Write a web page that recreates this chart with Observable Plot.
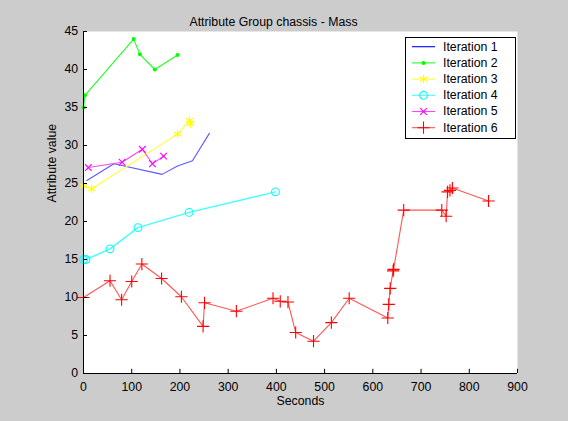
<!DOCTYPE html>
<html>
<head>
<meta charset="utf-8">
<script src="https://cdn.jsdelivr.net/npm/d3@7"></script>
<script src="https://cdn.jsdelivr.net/npm/@observablehq/plot@0.6"></script>
<style>
  body { margin: 0; background: #cccccc; }
  #fig { position: relative; width: 568px; height: 421px; background: #cccccc;
         font-family: "Liberation Sans", Arial, sans-serif; }
  #legend { position: absolute; left: 405px; top: 37px; }
</style>
</head>
<body>
<div id="fig"></div>
<script>
// Mass of the chassis attribute group over time, one series per iteration
const chartTitle = "Attribute Group chassis - Mass";
const xLabel = "Seconds";
const yLabel = "Attribute value";

const xTicks = [0, 100, 200, 300, 400, 500, 600, 700, 800, 900];
const yTicks = [0, 5, 10, 15, 20, 25, 30, 35, 40, 45];

const seriesNames = ["Iteration 1", "Iteration 2", "Iteration 3", "Iteration 4", "Iteration 5", "Iteration 6"];

const iter1Seconds = [7, 63, 163, 195, 226, 261];
const iter1Values  = [25.4, 27.6, 26.2, 27.3, 28.0, 31.6];

const iter2Seconds = [0, 3, 104, 117, 148, 195];
const iter2Values  = [35.0, 36.6, 44.0, 42.0, 40.0, 41.9];

const iter3Seconds = [0, 17, 195, 220, 222];
const iter3Values  = [24.7, 24.3, 31.5, 33.3, 32.9];

const iter4Seconds = [0, 5, 55, 113, 219, 398];
const iter4Values  = [15.0, 15.0, 16.4, 19.2, 21.2, 23.9];

const iter5Seconds = [10, 80, 122, 143, 166];
const iter5Values  = [27.1, 27.8, 29.5, 27.6, 28.6];

const iter6Seconds = [0, 55, 79, 100, 121, 162, 203, 248, 251, 317, 393, 408, 424, 440, 477, 514, 551,
                      631, 633, 636, 642, 643, 664, 743, 752, 755, 760, 765, 840];
const iter6Values  = [10.0, 12.2, 9.7, 12.1, 14.4, 12.5, 10.1, 6.2, 9.3, 8.2, 9.9, 9.5, 9.4, 5.4, 4.25, 6.7, 9.9,
                      7.3, 9.1, 11.2, 13.5, 13.7, 21.5, 21.5, 20.7, 23.9, 24.1, 24.4, 22.7];

const seriesSeconds = [iter1Seconds, iter2Seconds, iter3Seconds, iter4Seconds, iter5Seconds, iter6Seconds];
const seriesValues  = [iter1Values, iter2Values, iter3Values, iter4Values, iter5Values, iter6Values];

// MATLAB-like line specs: colour and marker per iteration
const seriesStyles = [
  {color: "#0000ff", line: "#5a5aff", marker: null},
  {color: "#00ff00", line: "#22ff22", marker: "dot"},
  {color: "#ffff00", line: "#ffff33", marker: "asterisk"},
  {color: "#00ffff", line: "#44ffff", marker: "circle"},
  {color: "#ff00ff", line: "#ff44ff", marker: "times"},
  {color: "#ff0000", line: "#ff5555", marker: "plus"}
];
const markerRadius = {dot: 2.0, asterisk: 4.0, circle: 3.9, times: 3.1, plus: 4.0};

const rows = seriesNames.map((name, i) =>
  seriesSeconds[i].map((x, j) => ({series: name, x, y: seriesValues[i][j]})));

const fontSize = 12.3;
const marks = [
  Plot.frame({fill: "white", stroke: null})
];
rows.forEach((data, i) => {
  const st = seriesStyles[i];
  marks.push(Plot.line(data, {x: "x", y: "y", stroke: st.line, strokeWidth: i === 3 ? 1.4 : 1.1}));
  if (st.marker === "dot") {
    marks.push(Plot.dot(data, {x: "x", y: "y", r: markerRadius.dot, fill: st.color, stroke: null}));
  } else if (st.marker) {
    marks.push(Plot.dot(data, {x: "x", y: "y", r: markerRadius[st.marker], symbol: st.marker,
                               stroke: st.color, strokeWidth: 1.1, fill: "none"}));
  }
});
marks.push(
  // axis lines
  Plot.ruleY([0], {stroke: "black"}),
  Plot.ruleX([0], {stroke: "black"}),
  // inward tick marks
  Plot.ruleX(xTicks, {x: d => d, y1: 0, y2: 0.55, stroke: "black"}),
  Plot.ruleY(yTicks, {y: d => d, x1: 0, x2: 8.3, stroke: "black"}),
  Plot.axisX({ticks: xTicks, tickSize: 0, tickPadding: 8.5, label: null, fontSize, tickFormat: d => d}),
  Plot.axisY({ticks: yTicks, tickSize: 0, tickPadding: 5.3, label: null, fontSize, tickFormat: d => d}),
  Plot.text([chartTitle], {text: d => d, frameAnchor: "top", dx: -27, dy: -14.4, fontSize, fill: "black"}),
  Plot.text([xLabel], {text: d => d, frameAnchor: "bottom", dy: 31, fontSize, fill: "black"}),
  Plot.text([yLabel], {text: d => d, frameAnchor: "left", dx: -31, rotate: -90, fontSize, fill: "black"})
);

const chart = Plot.plot({
  width: 568,
  height: 421,
  marginLeft: 83,
  marginRight: 51,
  marginTop: 31,
  marginBottom: 48,
  x: {domain: [0, 900]},
  y: {domain: [0, 45]},
  style: {background: "transparent", color: "black", fontFamily: "'Liberation Sans', Arial, sans-serif", fontSize: fontSize + "px"},
  marks
});
document.getElementById("fig").appendChild(chart);

// Legend box in the upper right of the axes
const lg = d3.select("#fig").append("svg").attr("id", "legend").attr("width", 111).attr("height", 102);
lg.append("rect").attr("x", 0.5).attr("y", 0.5).attr("width", 110).attr("height", 101)
  .attr("fill", "white").attr("stroke", "black");
const symbolTypes = {asterisk: d3.symbolAsterisk, circle: d3.symbolCircle, times: d3.symbolTimes, plus: d3.symbolPlus};
seriesNames.forEach((name, i) => {
  const st = seriesStyles[i];
  const g = lg.append("g").attr("transform", `translate(0,${9.7 + 16.2 * i})`);
  g.append("line").attr("x1", 7).attr("x2", 30).attr("y1", 0).attr("y2", 0)
    .attr("stroke", st.color === "#0000ff" ? st.color : st.line).attr("stroke-width", 1.1);
  if (st.marker === "dot") {
    g.append("circle").attr("cx", 18.5).attr("cy", 0).attr("r", markerRadius.dot).attr("fill", st.color);
  } else if (st.marker) {
    const r = markerRadius[st.marker];
    g.append("path").attr("transform", "translate(18.5,0)")
      .attr("d", d3.symbol(symbolTypes[st.marker], Math.PI * r * r)())
      .attr("fill", "none").attr("stroke", st.color).attr("stroke-width", 1.1);
  }
  g.append("text").attr("x", 38).attr("y", 0).attr("dy", "0.32em")
    .attr("font-size", fontSize).attr("fill", "black").text(name);
});
</script>
</body>
</html>
